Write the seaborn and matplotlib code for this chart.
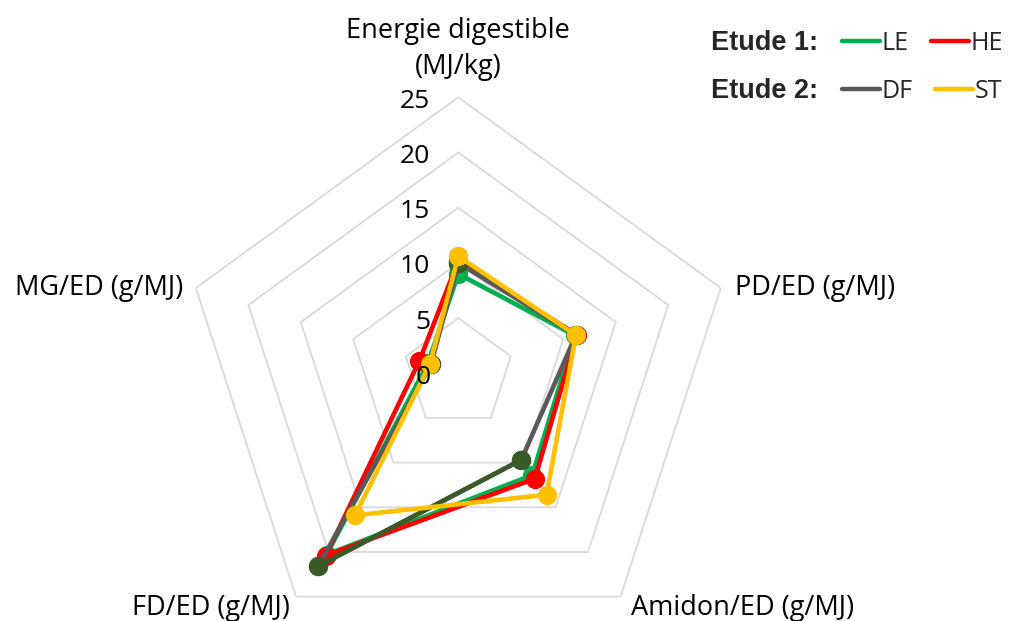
import numpy as np
import matplotlib
matplotlib.use("Agg")
import matplotlib.pyplot as plt
from matplotlib.lines import Line2D
from matplotlib.transforms import offset_copy
import seaborn as sns

# Nutritional profile of the diets, five axes of the radar
categories = ["Energie digestible\n(MJ/kg)", "PD/ED (g/MJ)", "Amidon/ED (g/MJ)",
              "FD/ED (g/MJ)", "MG/ED (g/MJ)"]
le_values = [9.0, 11.1, 11.4, 20.3, 2.9]
he_values = [10.2, 11.3, 11.8, 20.4, 3.7]
df_values = [10.0, 11.2, 9.7, 21.6, 2.6]
st_values = [10.6, 11.2, 13.6, 15.9, 2.7]
ring_values = [0, 5, 10, 15, 20, 25]

sns.set_theme(style="white")
plt.rcParams["font.family"] = ["Open Sans", "DejaVu Sans"]

W, H = 1025, 621
fig = plt.figure(figsize=(W / 100, H / 100), dpi=100)
fig.patch.set_facecolor("white")

# polar axes: square box of 552 px centred on the chart centre
cx, cy, rad = 458.3, 373.3, 276.0
ax = fig.add_axes([(cx - rad) / W, (H - cy - rad) / H, 2 * rad / W, 2 * rad / H],
                  projection="polar")
ax.set_theta_zero_location("N")
ax.set_theta_direction(-1)

n = len(categories)
theta = np.linspace(0, 2 * np.pi, n, endpoint=False)
theta_closed = np.append(theta, theta[0] + 2 * np.pi)


def closed(vals):
    return np.append(vals, vals[0])


# pentagonal grid rings
for v in ring_values[1:]:
    ax.plot(theta_closed, [v] * (n + 1), color="#D9D9D9", lw=1.3, zorder=1)

series = [
    (le_values, "#00B050", "#00B050"),
    (he_values, "#FF0000", "#FF0000"),
    (df_values, "#595959", "#3B5A2A"),
    (st_values, "#FFC000", "#FFC000"),
]
for i, (vals, lc, mc) in enumerate(series):
    sns.lineplot(x=theta_closed, y=closed(vals), ax=ax, sort=False, estimator=None,
                 color=lc, lw=3.3, marker="o", markersize=13,
                 markerfacecolor=mc, markeredgecolor=mc, markeredgewidth=0.8,
                 legend=False, zorder=3 + i)
    if lc != mc:
        # Amidon -> FD segment of this series is drawn in the marker colour
        sns.lineplot(x=theta[2:4], y=vals[2:4], ax=ax, sort=False, estimator=None,
                     color=mc, lw=3.3, legend=False, zorder=3 + i)
        ax.plot(theta, vals, ls="none", marker="o", markersize=13,
                markerfacecolor=mc, markeredgecolor=mc, zorder=3.5 + i)

ax.set_ylim(0, 25)
ax.set_xticks([])
ax.set_yticks([])
ax.set_xlabel("")
ax.set_ylabel("")
ax.grid(False)
ax.spines["polar"].set_visible(False)
ax.set_facecolor("none")
ax.set_clip_on(False)

# radial scale labels, left of the vertical axis
for v in ring_values:
    tr = offset_copy(ax.transData, fig=fig, x=-28, y=-4, units="dots")
    ax.text(0, v, str(v), transform=tr, ha="right", va="center",
            fontsize=19, color="black", zorder=10)

# category labels around the outer ring
label_offsets = [(0, 48, "center"), (14, 0, "left"), (10, -11, "left"),
                 (-6, -11, "right"), (-13, 0, "right")]
for t, lab, (dx, dy, ha) in zip(theta, categories, label_offsets):
    tr = offset_copy(ax.transData, fig=fig, x=dx, y=dy, units="dots")
    ax.text(t, 25, lab, transform=tr, ha=ha, va="center", fontsize=19.5,
            color="black", linespacing=1.38, clip_on=False)

# legend: two studies, two diets each
def legend_row(labels, colors, ypx):
    handles = [Line2D([], [], color=c, lw=3.2) for c in colors]
    leg = fig.legend(handles, labels, ncol=2, frameon=False,
                     loc="center left", bbox_to_anchor=(842 / W, 1 - ypx / H),
                     fontsize=18, handlelength=1.5, handletextpad=0.08,
                     columnspacing=0.9, borderpad=0, borderaxespad=0)
    return leg

legend_row(["LE", "HE"], ["#00B050", "#FF0000"], 43)
legend_row(["DF", "ST"], ["#595959", "#FFC000"], 91)
fig.text(711 / W, 1 - 43 / H, "Etude 1:", ha="left", va="center",
         fontsize=19.5, fontweight="bold", family=["Liberation Sans", "DejaVu Sans"])
fig.text(711 / W, 1 - 91 / H, "Etude 2:", ha="left", va="center",
         fontsize=19.5, fontweight="bold", family=["Liberation Sans", "DejaVu Sans"])

fig.savefig("out.png", dpi=100, facecolor="white")
